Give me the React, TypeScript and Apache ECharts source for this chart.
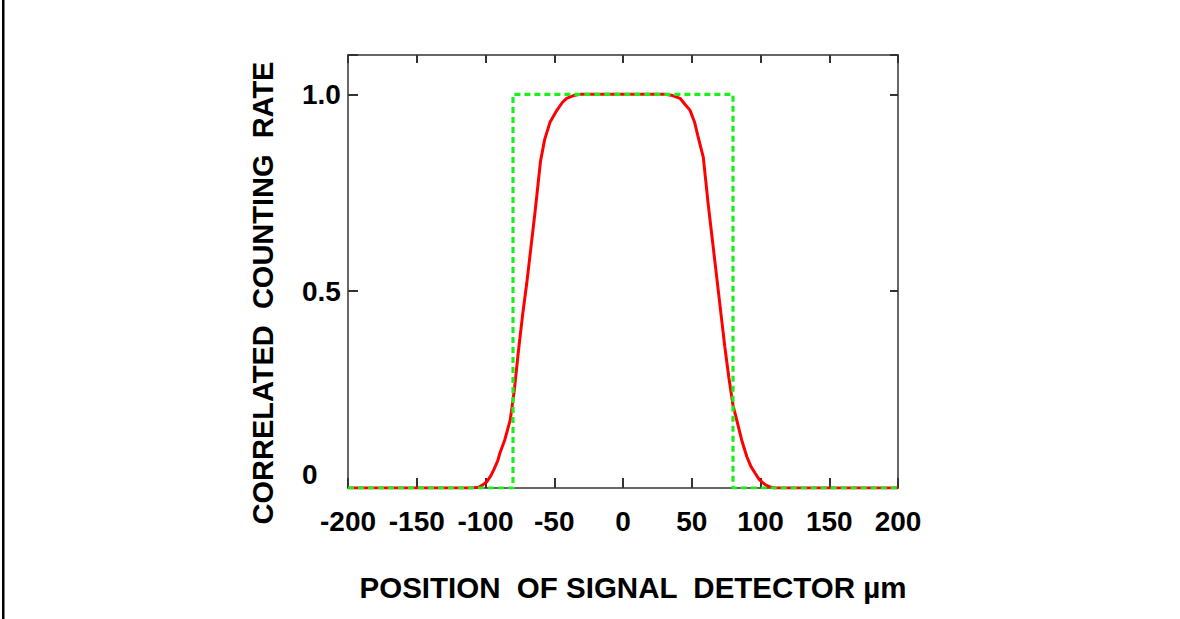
import React, { useEffect, useRef } from "react";
import * as echarts from "echarts";

const xTicks = [-200, -150, -100, -50, 0, 50, 100, 150, 200];
const yTicks = [0, 0.5, 1.0];

const measuredX = [
  -200, -110, -105, -102, -99, -96, -94, -91, -89.5, -86, -82, -79, -76, -73, -70, -67, -64, -60, -57, -53,
  -48, -44, -41, -36, -31, 31, 36, 41.5, 45, 48.7, 52, 54.5, 58.4, 62, 65, 68, 71, 74, 77, 80, 82.7, 86.3,
  90, 93, 96, 99, 101.8, 104, 107, 110, 200,
];
const measuredY = [
  0, 0, 0.002, 0.008, 0.016, 0.032, 0.046, 0.07, 0.089, 0.122, 0.173, 0.25, 0.35, 0.44, 0.52, 0.61, 0.7, 0.83,
  0.885, 0.93, 0.96, 0.98, 0.99, 0.997, 1.0, 1.0, 0.997, 0.99, 0.975, 0.96, 0.93, 0.894, 0.84, 0.72, 0.63, 0.54,
  0.45, 0.36, 0.28, 0.21, 0.173, 0.122, 0.08, 0.055, 0.038, 0.022, 0.013, 0.007, 0.003, 0, 0,
];

const idealX = [-200, -80, -80, 80, 80, 200];
const idealY = [0, 0, 1, 1, 0, 0];

const FONT = "'Liberation Sans', Arial, sans-serif";

const mkLine = () => ({ show: true, onZero: false, lineStyle: { color: "#666", width: 2 } });
const mkTick = (len = 8) => ({ show: true, inside: true, length: len, lineStyle: { color: "#333", width: 2 } });

export default function App() {
  const ref = useRef<HTMLDivElement>(null);
  useEffect(() => {
    document.body.style.margin = "0";
    if (!ref.current) return;
    const chart = echarts.init(ref.current, undefined, { renderer: "svg" });
    const xBase = {
      type: "value",
      min: xTicks[0],
      max: xTicks[xTicks.length - 1],
      interval: 50,
      splitLine: { show: false },
    };
    const yBase = {
      type: "value",
      min: 0,
      max: 1.1,
      interval: 0.5,
      splitLine: { show: false },
    };
    chart.setOption({
      animation: false,
      backgroundColor: "#fff",
      grid: { left: 348, right: 282, top: 55, bottom: 131 },
      xAxis: [
        {
          ...xBase,
          position: "bottom",
          axisLine: mkLine(),
          axisTick: mkTick(10),
          axisLabel: {
            margin: 19,
            fontFamily: FONT,
            fontWeight: "bold",
            fontSize: 28,
            color: "#000",
            formatter: (v: number) => String(v),
          },
        },
        {
          ...xBase,
          position: "top",
          axisLine: mkLine(),
          axisTick: mkTick(8),
          axisLabel: { show: false },
        },
      ],
      yAxis: [
        {
          ...yBase,
          position: "left",
          axisLine: mkLine(),
          axisTick: mkTick(10),
          axisLabel: {
            margin: 46,
            align: "left",
            verticalAlignMinLabel: "bottom",
            fontFamily: FONT,
            fontWeight: "bold",
            fontSize: 28,
            color: "#000",
            formatter: (v: number) => (v === 0 ? "0" : yTicks.includes(v) ? v.toFixed(1) : ""),
          },
        },
        {
          ...yBase,
          position: "right",
          axisLine: mkLine(),
          axisTick: mkTick(8),
          axisLabel: { show: false },
        },
      ],
      graphic: [
        { type: "rect", shape: { x: 2, y: 0, width: 2.5, height: 619 }, style: { fill: "#000" } },
        {
          type: "text",
          x: 263,
          y: 293,
          rotation: Math.PI / 2,
          style: {
            text: "CORRELATED  COUNTING  RATE",
            fontFamily: FONT,
            fontWeight: "bold",
            fontSize: 29,
            fill: "#000",
            align: "center",
            verticalAlign: "middle",
          },
        },
        {
          type: "text",
          x: 633,
          y: 587,
          style: {
            text: "POSITION  OF SIGNAL  DETECTOR µm",
            fontFamily: FONT,
            fontWeight: "bold",
            fontSize: 29.5,
            fill: "#000",
            align: "center",
            verticalAlign: "middle",
          },
        },
      ],
      series: [
        {
          type: "line",
          data: measuredX.map((x, i) => [x, measuredY[i]]),
          showSymbol: false,
          lineStyle: { color: "#ff0000", width: 3 },
          z: 2,
        },
        {
          type: "line",
          data: idealX.map((x, i) => [x, idealY[i]]),
          showSymbol: false,
          lineStyle: { color: "#1eee1e", width: 3.2, type: [6, 4] },
          z: 3,
        },
      ],
    });
    return () => chart.dispose();
  }, []);
  return <div ref={ref} style={{ width: 1180, height: 619 }} />;
}
